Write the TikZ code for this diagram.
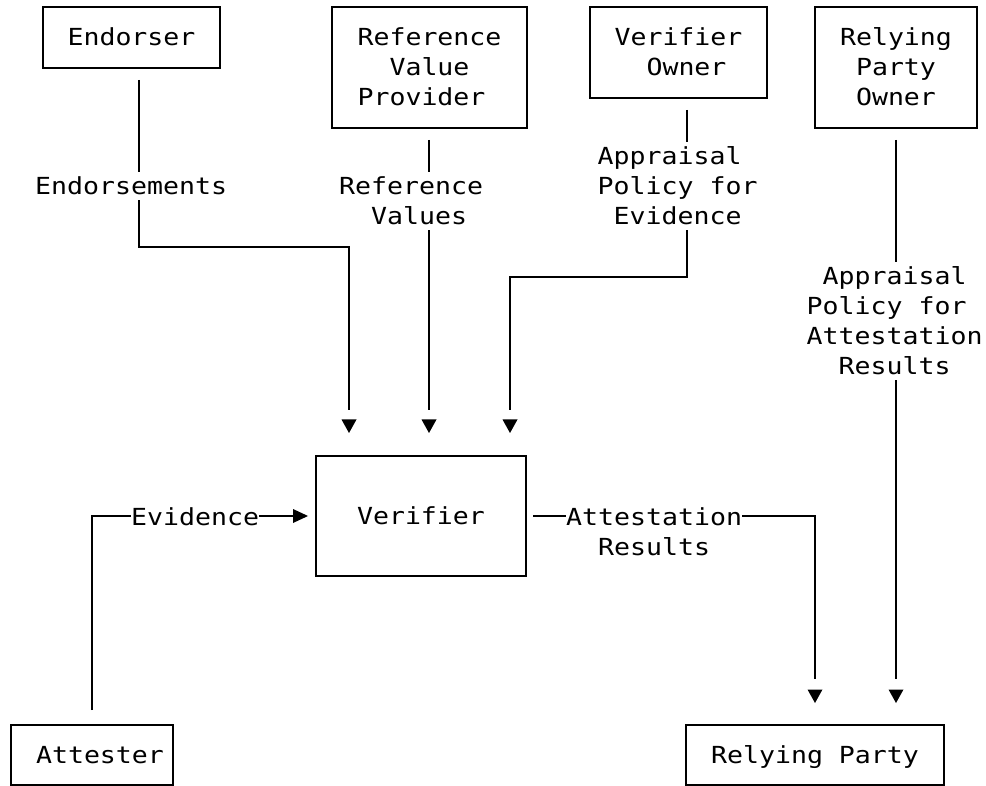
\documentclass[tikz,border=0pt]{standalone}
\usepackage{fontspec}
\setmonofont[FakeStretch=1.13]{DejaVu Sans Mono}
\usetikzlibrary{backgrounds}

% one text line of fixed height (cap height) and no depth
\newcommand{\tline}[1]{\hbox{\vrule height 17pt depth 0pt width 0pt\smash{#1}}}
% a stack of lines on a 30pt grid, baseline at the first line
\newcommand{\tlines}[1]{\vtop{\baselineskip=30pt\lineskiplimit=-100pt\lineskip=0pt #1}}

\begin{document}
\begin{tikzpicture}[x=1pt,y=-1pt,
  every node/.style={font=\ttfamily\fontsize{23.5pt}{30pt}\selectfont},
  boxnode/.style={draw,line width=2.2pt,inner sep=0pt,outer sep=0pt},
  lbl/.style={fill=white,inner xsep=0pt,inner ysep=5.5pt,anchor=base west},
  conn/.style={line width=2.2pt},
  intobox/.style={shorten >=46pt},
  intoside/.style={shorten >=23pt},
  downtip/.pic={\fill (0,0) -- (-7.5,-13.5) -- (7.5,-13.5) -- cycle;},
  righttip/.pic={\fill (0,0) -- (-15,-7) -- (-15,7) -- cycle;}]

\useasboundingbox (0,0) rectangle (986,786);

% boxes
\node[boxnode,minimum width=177pt,minimum height=61pt] (endorser) at (131.5,37.5)
  {\tlines{\tline{Endorser}}};
\node[boxnode,minimum width=195pt,minimum height=121pt] (refprov) at (429.5,67.5)
  {\tlines{\tline{Reference}\tline{\hphantom{xx}Value}\tline{Provider}}};
\node[boxnode,minimum width=177pt,minimum height=91pt] (vowner) at (678.5,52.5)
  {\tlines{\tline{Verifier}\tline{\hphantom{xx}Owner}}};
\node[boxnode,minimum width=162pt,minimum height=121pt] (rpowner) at (896,67.5)
  {\tlines{\tline{Relying}\tline{\hphantom{x}Party}\tline{\hphantom{x}Owner}}};
\node[boxnode,minimum width=210pt,minimum height=120pt] (verifier) at (421,516)
  {\tlines{\tline{Verifier}}};
\node[boxnode,minimum width=162pt,minimum height=60pt] (attester) at (92,755)
  {\tlines{\tline{\hphantom{x}Attester}}};
\node[boxnode,minimum width=258pt,minimum height=60pt] (rparty) at (815,755)
  {\tlines{\tline{Relying Party}}};

% labels sitting on the connectors
\node[lbl] (lEnd) at (35,195) {\tlines{\tline{Endorsements}}};
\node[lbl] (lRef) at (339,195) {\tlines{\tline{Reference}\tline{\hphantom{xx}Values}}};
\node[lbl] (lApE) at (597.5,165)
  {\tlines{\tline{Appraisal}\tline{Policy for}\tline{\hphantom{x}Evidence}}};
\node[lbl] (lApR) at (806.5,285)
  {\tlines{\tline{\hphantom{x}Appraisal}\tline{Policy for}\tline{Attestation}\tline{\hphantom{xx}Results}}};
\node[lbl] (lEvi) at (131,525) {\tlines{\tline{Evidence}}};
\node[lbl] (lAtt) at (566,525) {\tlines{\tline{Attestation}\tline{\hphantom{xx}Results}}};

% bend points of the connectors
\coordinate (eA) at (139,247);
\coordinate (eB) at (349,247);
\coordinate (rX) at (429,300);
\coordinate (vA) at (687,277);
\coordinate (vB) at (510,277);
\coordinate (pX) at (896,400);
\coordinate (aA) at (92,516);
\coordinate (tA) at (815,516);

\begin{pgfonlayer}{background}
\draw[conn,intobox,shorten <=12pt] (endorser.south -| eA) -- (eA) -- (eB) -- (verifier.north -| eB);
\draw[conn,intobox,shorten <=12pt] (refprov.south -| rX) -- (verifier.north -| rX);
\draw[conn,intobox,shorten <=12pt] (vowner.south -| vA) -- (vA) -- (vB) -- (verifier.north -| vB);
\draw[conn,intobox,shorten <=12pt] (rpowner.south -| pX) -- (rparty.north -| pX);
\draw[conn,intoside,shorten <=15pt] (attester.north -| aA) -- (aA) -- (verifier.west);
\draw[conn,intobox,shorten <=7pt] (verifier.east) -- (tA) -- (rparty.north -| tA);
\end{pgfonlayer}

% arrowheads, set a little apart from the line ends
\path (verifier.north -| eB) ++(0,-23) pic {downtip};
\path (verifier.north -| rX) ++(0,-23) pic {downtip};
\path (verifier.north -| vB) ++(0,-23) pic {downtip};
\path (rparty.north -| tA) ++(0,-22) pic {downtip};
\path (rparty.north -| pX) ++(0,-22) pic {downtip};
\path (verifier.west) ++(-8,0) pic {righttip};
\end{tikzpicture}
\end{document}
